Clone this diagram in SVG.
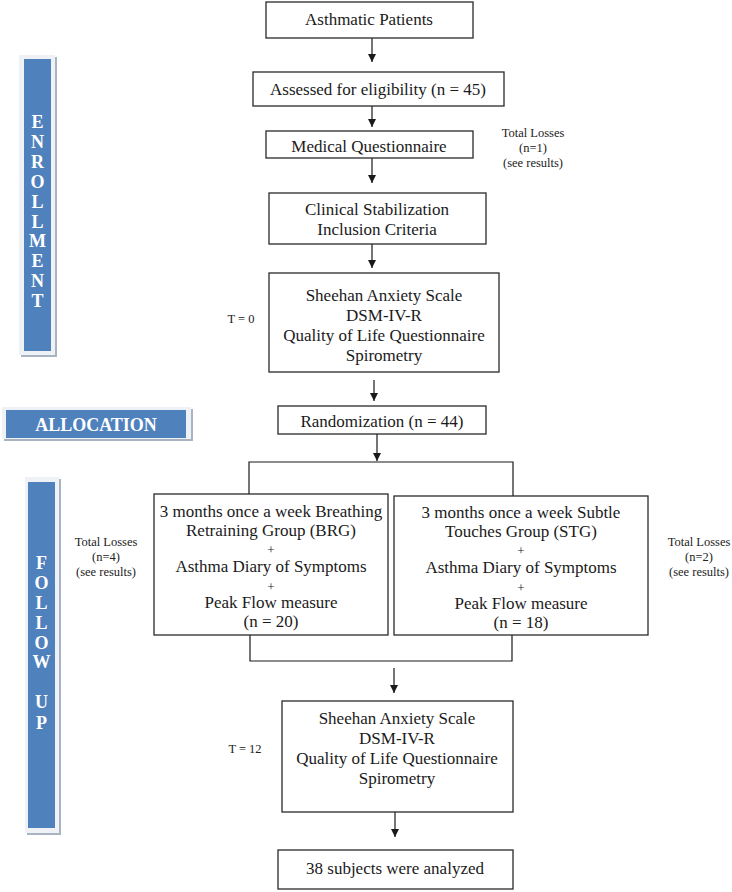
<svg xmlns="http://www.w3.org/2000/svg" width="732" height="892" viewBox="0 0 732 892">
<defs>
<marker id="ah" viewBox="0 0 10 10" refX="10" refY="5" markerWidth="8" markerHeight="8" markerUnits="userSpaceOnUse" orient="auto">
<path d="M0,0 L10,5 L0,10 Z" fill="#1a1a1a"/>
</marker>
</defs>
<style>
.box{fill:#fff;stroke:#2a2a2a;stroke-width:1.3}
.t{font-family:"Liberation Serif","Times New Roman",serif;font-size:17px;fill:#1a1a1a;text-anchor:middle}
.p{font-family:"Liberation Serif","Times New Roman",serif;font-size:13px;fill:#1a1a1a;text-anchor:middle}
.s{font-family:"Liberation Serif","Times New Roman",serif;font-size:12.5px;fill:#222;text-anchor:middle}
.lbl{font-family:"Liberation Serif","Times New Roman",serif;font-size:18px;font-weight:bold;fill:#fff;text-anchor:middle}
.frame{fill:#eef1f5}
.shadow{fill:#a9b3c1}
.blue{fill:#4f81bd}
.ln{fill:none;stroke:#1a1a1a;stroke-width:1.2}
.ar{fill:none;stroke:#1a1a1a;stroke-width:1.2;marker-end:url(#ah)}
</style>

<g id="enrollment">
<rect class="shadow" x="21" y="57" width="36" height="300"/>
<rect class="frame" x="19" y="55" width="36" height="300"/>
<rect class="blue" x="24" y="59" width="27" height="292"/>
<text class="lbl" x="37.5" y="128">E</text>
<text class="lbl" x="37.5" y="148">N</text>
<text class="lbl" x="37.5" y="168">R</text>
<text class="lbl" x="37.5" y="188">O</text>
<text class="lbl" x="37.5" y="208">L</text>
<text class="lbl" x="37.5" y="228">L</text>
<text class="lbl" x="37.5" y="247">M</text>
<text class="lbl" x="37.5" y="267">E</text>
<text class="lbl" x="37.5" y="287">N</text>
<text class="lbl" x="37.5" y="307">T</text>
</g>

<g id="allocation">
<rect class="shadow" x="4" y="409" width="189" height="32"/>
<rect class="frame" x="2" y="407" width="189" height="32"/>
<rect class="blue" x="6" y="410" width="180" height="28"/>
<text class="lbl" x="96" y="431">ALLOCATION</text>
</g>

<g id="followup">
<rect class="shadow" x="27" y="479" width="34" height="356"/>
<rect class="frame" x="25" y="477" width="34" height="356"/>
<rect class="blue" x="28" y="482" width="27" height="346"/>
<text class="lbl" x="41.5" y="569">F</text>
<text class="lbl" x="41.5" y="589">O</text>
<text class="lbl" x="41.5" y="609">L</text>
<text class="lbl" x="41.5" y="629">L</text>
<text class="lbl" x="41.5" y="649">O</text>
<text class="lbl" x="41.5" y="668">W</text>
<text class="lbl" x="41.5" y="708">U</text>
<text class="lbl" x="41.5" y="729">P</text>
</g>

<g id="connectors">
<line class="ar" x1="372" y1="38" x2="372" y2="62"/>
<line class="ar" x1="372" y1="106" x2="372" y2="127"/>
<line class="ar" x1="372" y1="158" x2="372" y2="183"/>
<line class="ar" x1="372" y1="244" x2="372" y2="268"/>
<line class="ar" x1="374" y1="380" x2="374" y2="401"/>
<line class="ar" x1="377" y1="434" x2="377" y2="461"/>
<polyline class="ln" points="249,494 249,462 513,462 513,496"/>
<polyline class="ln" points="250,635 250,661 512,661 512,635"/>
<line class="ar" x1="394" y1="668" x2="394" y2="693"/>
<line class="ar" x1="395" y1="812" x2="395" y2="837"/>
</g>

<g id="asthmatic">
<rect class="box" x="266" y="2" width="207" height="36"/>
<text class="t" x="369" y="25">Asthmatic Patients</text>
</g>

<g id="assessed">
<rect class="box" x="253" y="72" width="251" height="34"/>
<text class="t" x="378" y="95">Assessed for eligibility (n = 45)</text>
</g>

<g id="medical">
<rect class="box" x="266" y="131" width="207" height="27"/>
<text class="t" x="369" y="152">Medical Questionnaire</text>
</g>

<g id="losses1">
<text class="s" x="533" y="137">Total Losses</text>
<text class="s" x="533" y="152">(n=1)</text>
<text class="s" x="533" y="167">(see results)</text>
</g>

<g id="clinical">
<rect class="box" x="269" y="193" width="217" height="51"/>
<text class="t" x="377" y="215">Clinical Stabilization</text>
<text class="t" x="377" y="235">Inclusion Criteria</text>
</g>

<g id="t0">
<text class="s" x="241" y="323">T = 0</text>
</g>

<g id="baseline">
<rect class="box" x="269" y="273" width="230" height="99"/>
<text class="t" x="384" y="301">Sheehan Anxiety Scale</text>
<text class="t" x="384" y="321">DSM-IV-R</text>
<text class="t" x="384" y="341">Quality of Life Questionnaire</text>
<text class="t" x="384" y="361">Spirometry</text>
</g>

<g id="randomization">
<rect class="box" x="278" y="406" width="208" height="28"/>
<text class="t" x="382" y="427">Randomization (n = 44)</text>
</g>

<g id="losses4">
<text class="s" x="106" y="546">Total Losses</text>
<text class="s" x="106" y="561">(n=4)</text>
<text class="s" x="106" y="576">(see results)</text>
</g>

<g id="brg">
<rect class="box" x="154" y="494" width="234" height="141"/>
<text class="t" x="271" y="517">3 months once a week Breathing</text>
<text class="t" x="271" y="536">Retraining Group (BRG)</text>
<text class="p" x="271" y="554">+</text>
<text class="t" x="271" y="572">Asthma Diary of Symptoms</text>
<text class="p" x="271" y="591">+</text>
<text class="t" x="271" y="608">Peak Flow measure</text>
<text class="t" x="271" y="627">(n = 20)</text>
</g>

<g id="stg">
<rect class="box" x="394" y="496" width="254" height="139"/>
<text class="t" x="521" y="518">3 months once a week Subtle</text>
<text class="t" x="521" y="537">Touches Group (STG)</text>
<text class="p" x="521" y="555">+</text>
<text class="t" x="521" y="573">Asthma Diary of Symptoms</text>
<text class="p" x="521" y="592">+</text>
<text class="t" x="521" y="609">Peak Flow measure</text>
<text class="t" x="521" y="628">(n = 18)</text>
</g>

<g id="losses2">
<text class="s" x="699" y="546">Total Losses</text>
<text class="s" x="699" y="561">(n=2)</text>
<text class="s" x="699" y="576">(see results)</text>
</g>

<g id="t12">
<text class="s" x="245" y="753">T = 12</text>
</g>

<g id="followup-assess">
<rect class="box" x="282" y="701" width="231" height="111"/>
<text class="t" x="397" y="724">Sheehan Anxiety Scale</text>
<text class="t" x="397" y="744">DSM-IV-R</text>
<text class="t" x="397" y="764">Quality of Life Questionnaire</text>
<text class="t" x="397" y="784">Spirometry</text>
</g>

<g id="analyzed">
<rect class="box" x="278" y="850" width="235" height="39"/>
<text class="t" x="395" y="874">38 subjects were analyzed</text>
</g>
</svg>
